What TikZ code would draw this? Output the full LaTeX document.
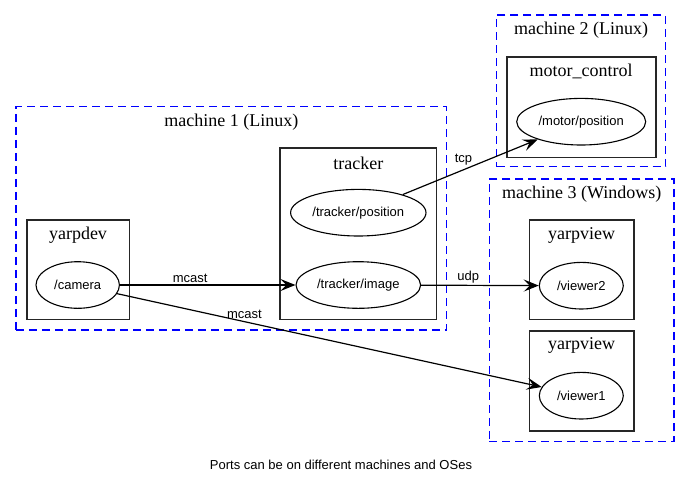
\documentclass[tikz,border=0pt]{standalone}
\usepackage{fontspec}
\setmainfont{Liberation Serif}
\newfontfamily\portfont{Liberation Sans}
\usetikzlibrary{shapes.geometric,arrows.meta}

\begin{document}
\begin{tikzpicture}[x=1pt, y=-1pt,
    machine/.style = {draw=blue, dash pattern=on 8pt off 5pt, line width=1.2pt, inner sep=0pt},
    process/.style = {draw=black!85, line width=1.6pt, inner sep=0pt},
    port/.style = {shape=ellipse, draw, line width=1.1pt, inner sep=0pt,
      minimum height=46.6pt, font=\portfont\fontsize{13}{15}\selectfont},
    title/.style = {anchor=center, yshift=-16pt, font=\fontsize{18}{20}\selectfont},
    link/.style = {draw, line width=1.2pt, -{Stealth[length=15pt, width=12pt, inset=6pt]}},
    tag/.style = {font=\portfont\fontsize{13}{15}\selectfont, inner sep=2pt}]
  \useasboundingbox (0,0) rectangle (682,483);
  \node[machine, minimum width=430.7pt, minimum height=223.3pt,
    label={[title]north:machine 1 (Linux)}] (machine1) at (231.3,218.3) {};
  \node[machine, minimum width=169pt, minimum height=151.7pt,
    label={[title]north:machine 2 (Linux)}] (machine2) at (581.2,90.8) {};
  \node[machine, minimum width=184.7pt, minimum height=262.7pt,
    label={[title]north:machine 3 (Windows)}] (machine3) at (581.7,310.3) {};

  \node[process, minimum width=102.6pt, minimum height=99.3pt,
    label={[title]north:yarpdev}] (yarpdev) at (78,269.7) {};
  \node[process, minimum width=156.7pt, minimum height=171.6pt,
    label={[title]north:tracker}] (tracker) at (358.3,233.5) {};
  \node[process, minimum width=149pt, minimum height=100.6pt,
    label={[title]north:motor\_control}] (motorctl) at (581.2,107) {};
  \node[process, minimum width=104.7pt, minimum height=99.3pt,
    label={[title]north:yarpview}] (yarpview2) at (581.7,269.7) {};
  \node[process, minimum width=104.7pt, minimum height=100pt,
    label={[title]north:yarpview}] (yarpview1) at (581.7,380.7) {};

  \node[port, minimum width=83.4pt] (camera) at (77.7,285) {/camera};
  \node[port, minimum width=135.4pt] (trackerpos) at (358.3,212.7) {/tracker/position};
  \node[port, minimum width=124.6pt] (trackerimg) at (358.3,285) {/tracker/image};
  \node[port, minimum width=129pt] (motorpos) at (581.2,121.7) {/motor/position};
  \node[port, minimum width=84pt] (viewer2) at (581.3,285.7) {/viewer2};
  \node[port, minimum width=84pt] (viewer1) at (581.3,395.7) {/viewer1};

  \draw[link] (camera) -- node[tag, above, pos=0.4] {mcast} (trackerimg);
  \draw[link] (camera) -- node[tag, above, pos=0.3] {mcast} (viewer1);
  \draw[link] (trackerimg) -- node[tag, above, pos=0.4] {udp} (viewer2);
  \draw[link] (trackerpos) -- node[tag, above=2pt, pos=0.45] {tcp} (motorpos);

  \node[tag] (caption) at (341,465) {Ports can be on different machines and OSes};
\end{tikzpicture}
\end{document}
